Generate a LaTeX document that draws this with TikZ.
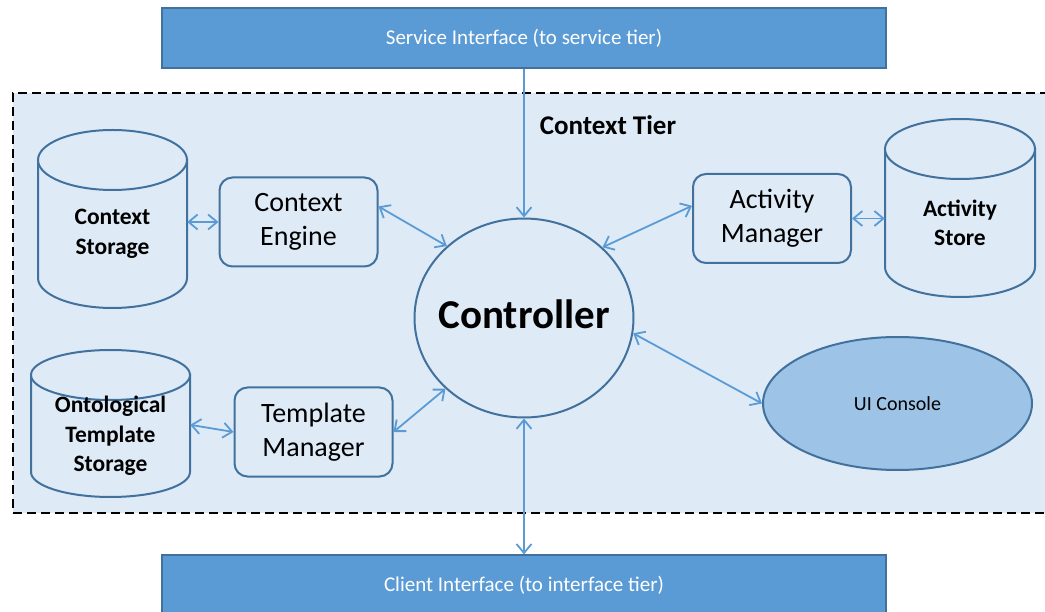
\documentclass[tikz,border=0pt]{standalone}
\usepackage{fontspec}
\setmainfont{Carlito}
\usetikzlibrary{arrows.meta,positioning,shapes.geometric}
\definecolor{barblue}{HTML}{5B9BD5}
\definecolor{edgeblue}{HTML}{41719C}
\definecolor{linkblue}{HTML}{5B9BD5}
\definecolor{tierfill}{HTML}{DEEBF7}
\definecolor{consolefill}{HTML}{9DC3E6}
\tikzset{
  >={Straight Barb[length=9pt,width=15pt]},
  bar/.style={draw=edgeblue, line width=1.2pt, fill=barblue, text=white,
    minimum width=724pt, minimum height=60pt, font=\fontsize{21}{25}\selectfont},
  tierbox/.style={draw=black, line width=2pt, dash pattern=on 9pt off 5pt, fill=tierfill},
  module/.style={draw=edgeblue, line width=2pt, rounded corners=13pt, fill=tierfill,
    align=center, minimum width=158pt, minimum height=89pt, inner sep=0pt,
    font=\fontsize{28}{34}\selectfont},
  cylwall/.style={draw=edgeblue, line width=2pt, fill=tierfill},
  storetext/.style={align=center, inner sep=0pt, font=\bfseries\fontsize{23.5}{29.5}\selectfont},
  link/.style={<->, draw=linkblue, line width=1.8pt}
}
% #1 name, #2 cx, #3 top, #4 bottom, #5 x radius, #6 y radius, #7 text
\newcommand{\storage}[7]{%
  \filldraw[cylwall] (#2-#5,#3+#6) -- (#2-#5,#4-#6)
    arc[start angle=180, end angle=360, x radius=#5pt, y radius=#6pt] -- (#2+#5,#3+#6) -- cycle;
  \filldraw[cylwall] (#2,#3+#6) ellipse[x radius=#5pt, y radius=#6pt];
  \node[storetext, minimum width={2*#5pt}, minimum height={(#4-#3-#6)*1pt}]
    (#1) at (#2,{(#3+#6+#4)/2}) {#7};
}

\begin{document}
\begin{tikzpicture}[x=1pt,y=-1pt]
  \useasboundingbox (0,0) rectangle (1045,612);
  \clip (0,0) rectangle (1045,612);

  % context tier frame
  \node[tierbox, anchor=north west, minimum width=1050pt, minimum height=420pt] (tier) at (12,92) {};
  \node[font=\bfseries\fontsize{27}{32}\selectfont] (tiername) at (608,125) {Context Tier};

  % interface bars
  \node[bar] (svc) at (524,38) {Service Interface (to service tier)};
  \node[bar] (cli) at (524,585) {Client Interface (to interface tier)};

  % stores
  \storage{cstore}{112.5}{130}{308}{74.5}{30}{Context\\Storage}
  \storage{astore}{960}{119}{297}{75}{30}{Activity\\Store}
  \storage{ostore}{110.5}{350}{497}{79.5}{25}{Ontological\\Template\\Storage}

  % managers
  \node[module] (engine) at (298.5,222) {Context\\Engine};
  \node[module] (amgr)   at (772,218.5) {Activity\\Manager};
  \node[module] (tmgr)   at (313.5,432) {Template\\Manager};

  \node[ellipse, draw=edgeblue, line width=2pt, fill=tierfill, minimum width=219pt,
    minimum height=199pt, inner sep=0pt,
    label={[font=\bfseries\fontsize{41}{48}\selectfont, yshift=4pt]center:Controller}]
    (ctrl) at (524,318) {};
  \node[ellipse, draw=edgeblue, line width=2pt, fill=consolefill, minimum width=269pt,
    minimum height=133pt, inner sep=0pt, font=\fontsize{20}{24}\selectfont]
    (ui) at (897.5,403.5) {UI Console};

  % links
  \draw[link] (engine.west -| cstore.east) -- (engine.west);
  \draw[link] (amgr.east) -- (amgr.east -| astore.west);
  \draw[link] (ostore.8) -- (tmgr.west);
  \draw[link] (engine.11) -- (ctrl.137);
  \draw[link] (ctrl.42) -- (amgr.171);
  \draw[link] (tmgr.east) -- (ctrl.222);
  \draw[link] (ctrl.-8) -- (ui.west);
  \draw[link,->] (svc.south) -- (ctrl.north);
  \draw[link] (ctrl.south) -- (cli.north);
\end{tikzpicture}
\end{document}
